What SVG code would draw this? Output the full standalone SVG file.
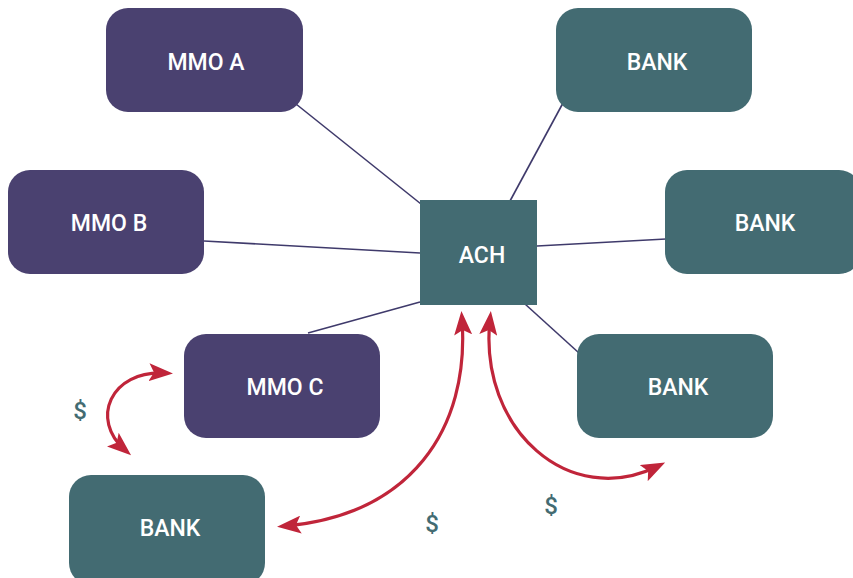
<svg xmlns="http://www.w3.org/2000/svg" width="853" height="578" viewBox="0 0 853 578">
<style>
.mmo{fill:#4a4170}
.bank{fill:#436b72}
.lbl{font-family:Roboto,"Liberation Sans",sans-serif;font-weight:500;font-size:23px;fill:#ffffff;text-anchor:middle}
.link{stroke:#3f3a6b;stroke-width:1.6;fill:none}
.flow{stroke:#c0253a;stroke-width:3.2;fill:none;marker-start:url(#ah);marker-end:url(#ah)}
.dol{font-family:Roboto,"Liberation Sans",sans-serif;font-weight:500;font-size:24px;fill:#436b72;text-anchor:middle}
</style>
<defs>
<marker id="ah" markerUnits="userSpaceOnUse" viewBox="0 0 24 18" markerWidth="24" markerHeight="18" refX="16" refY="9" orient="auto-start-reverse">
<path d="M0,0 L24,9 L0,18 L5,9 z" fill="#c0253a"/>
</marker>
</defs>
<rect width="853" height="578" fill="#ffffff"/>
<g id="connectors">
<line class="link" x1="296" y1="104" x2="421" y2="204"/>
<line class="link" x1="563" y1="103" x2="510" y2="201"/>
<line class="link" x1="204" y1="241" x2="420" y2="253"/>
<line class="link" x1="537" y1="246" x2="666" y2="239"/>
<line class="link" x1="308" y1="333" x2="420" y2="302"/>
<line class="link" x1="525" y1="304" x2="579" y2="353"/>
<path class="flow" d="M 165 373 C 110 370, 90 420, 125 450"/>
<path class="flow" d="M 462 319 C 470 430, 410 515, 285 526"/>
<path class="flow" d="M 490 319 C 478 430, 570 510, 658 466"/>
</g>
<g id="mmo-a"><rect class="mmo" x="106" y="8" width="197" height="104" rx="22"/><text class="lbl" x="206" y="70">MMO A</text></g>
<g id="bank-1"><rect class="bank" x="556" y="8" width="196" height="104" rx="22"/><text class="lbl" x="657" y="70">BANK</text></g>
<g id="mmo-b"><rect class="mmo" x="8" y="170" width="196" height="104" rx="22"/><text class="lbl" x="109" y="231">MMO B</text></g>
<g id="bank-2"><rect class="bank" x="665" y="170" width="196" height="104" rx="22"/><text class="lbl" x="765" y="231">BANK</text></g>
<g id="ach"><rect class="bank" x="420" y="200" width="117" height="105"/><text class="lbl" x="482" y="263">ACH</text></g>
<g id="mmo-c"><rect class="mmo" x="184" y="334" width="196" height="104" rx="22"/><text class="lbl" x="285" y="395">MMO C</text></g>
<g id="bank-3"><rect class="bank" x="577" y="334" width="196" height="104" rx="22"/><text class="lbl" x="678" y="395">BANK</text></g>
<g id="bank-4"><rect class="bank" x="69" y="475" width="196" height="110" rx="22"/><text class="lbl" x="170" y="536">BANK</text></g>
<g id="labels">
<text class="dol" x="80" y="419">$</text>
<text class="dol" x="432" y="532">$</text>
<text class="dol" x="551" y="514">$</text>
</g>
</svg>
